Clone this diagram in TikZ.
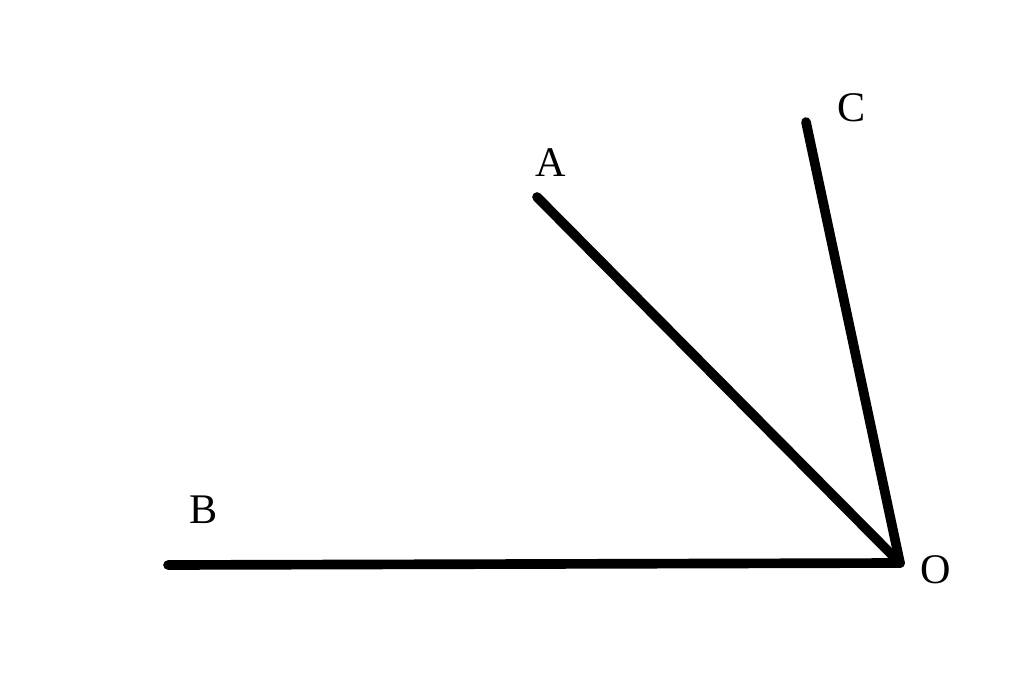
\documentclass[tikz,border=0pt]{standalone}
\usepackage{fontspec}
\setmainfont{Liberation Serif}
\begin{document}
\begin{tikzpicture}[x=0.02cm,y=-0.02cm,
  ray/.style={line width=5.5pt,line cap=round,black},
  lbl/.style={font=\fontsize{24}{28}\selectfont,inner sep=0pt}]
\useasboundingbox (0,0) rectangle (1024,682);
\coordinate (O) at (900,563);
\coordinate (B) at (168,565);
\coordinate (A) at (537,197);
\coordinate (C) at (806,122);
\draw[ray] (B) -- (O);
\draw[ray] (A) -- (O);
\draw[ray] (C) -- (O);
\node[lbl] (lA) at (551,163) {A};
\node[lbl] (lB) at (204,510) {B};
\node[lbl] (lC) at (852,108) {C};
\node[lbl] (lO) at (936,570) {O};
\end{tikzpicture}
\end{document}
